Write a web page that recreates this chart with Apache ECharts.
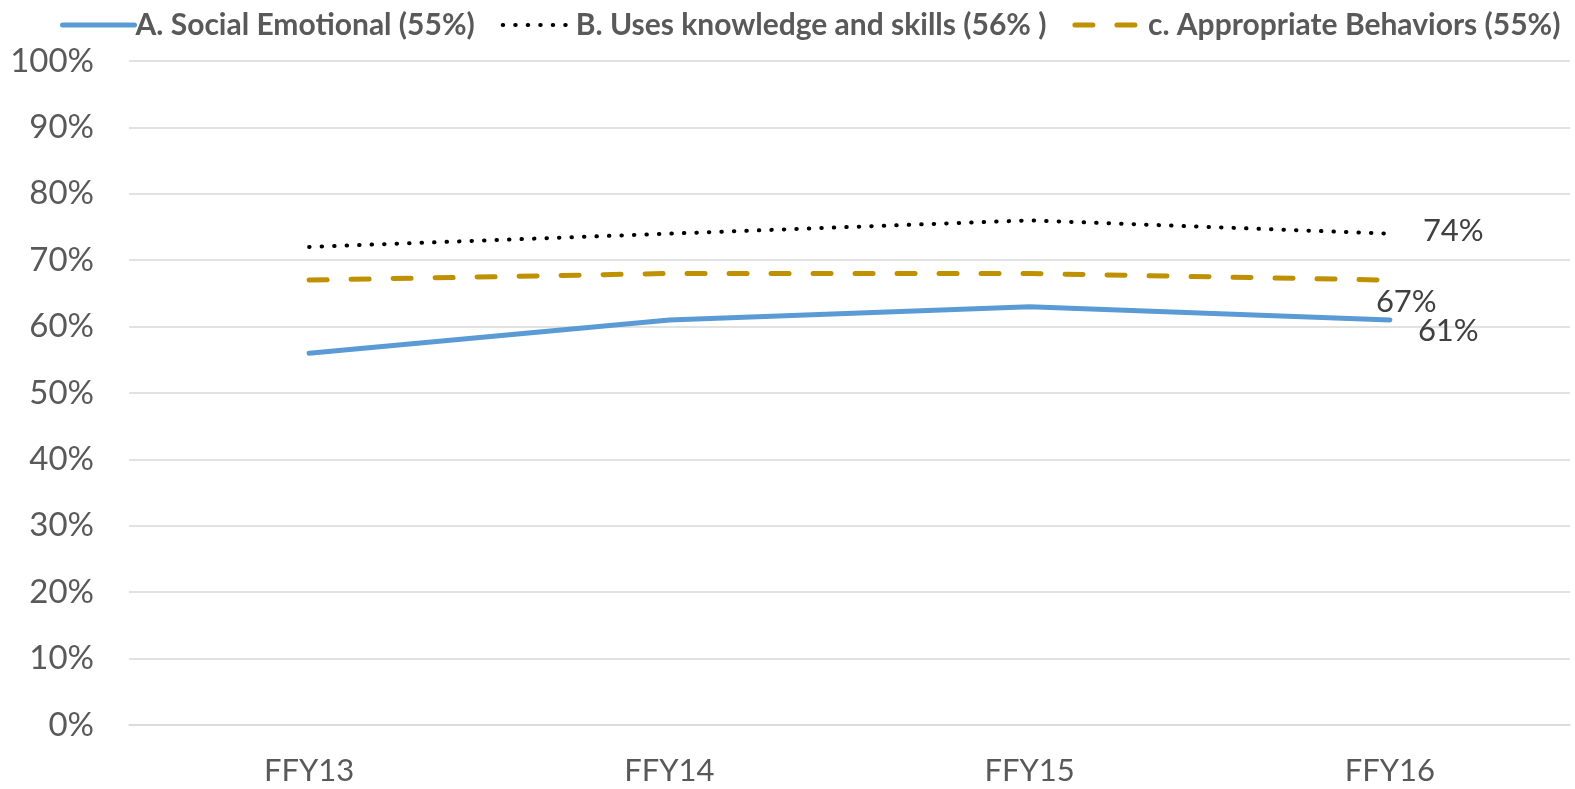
<!DOCTYPE html>
<html>
<head>
<meta charset="utf-8">
<script src="https://cdn.jsdelivr.net/npm/echarts@6/dist/echarts.min.js"></script>
<style>
  html, body { margin: 0; padding: 0; background: #fff; }
  #chart { width: 1575px; height: 789px; }
</style>
</head>
<body>
<div id="chart"></div>
<script>
const years = ['FFY13', 'FFY14', 'FFY15', 'FFY16'];
const socialEmotional = [56, 61, 63, 61];
const usesKnowledge = [72, 74, 76, 74];
const appropriateBehaviors = [67, 68, 68, 67];
const yTicks = [0, 10, 20, 30, 40, 50, 60, 70, 80, 90, 100];

const font = 'Lato, "Open Sans", sans-serif';

// value label at the end of each line
const endLabel = (dx, dy) => ({
    show: true,
    formatter: '{c}%',
    fontFamily: font,
    fontSize: 31,
    color: '#404040',
    distance: 0,
    offset: [dx, dy]
});

var myChart = echarts.init(document.getElementById('chart'));
const option = {
    animation: false,
    textStyle: { fontFamily: font },
    legend: {
        top: 5,
        left: 55,
        itemWidth: 72,
        itemHeight: 14,
        itemGap: 26,
        itemStyle: { opacity: 0 },
        lineStyle: { width: 'inherit', type: 'inherit', cap: 'round' },
        textStyle: { fontFamily: font, fontSize: 30, fontWeight: 'bold', color: '#595959', padding: [0, 0, 0, -4] },
        data: ['A. Social Emotional (55%)', 'B. Uses knowledge and skills (56% )', 'c. Appropriate Behaviors (55%)']
    },
    grid: {
        left: 129,
        right: 5,
        top: 61,
        bottom: 64
    },
    xAxis: {
        type: 'category',
        data: years,
        boundaryGap: true,
        axisLine: { show: true, lineStyle: { color: '#d9d9d9', width: 1.5 } },
        axisTick: { show: false },
        axisLabel: { fontFamily: font, fontSize: 31, color: '#595959', margin: 30 }
    },
    yAxis: {
        type: 'value',
        min: yTicks[0],
        max: yTicks[yTicks.length - 1],
        interval: 10,
        axisLine: { show: false },
        axisTick: { show: false },
        splitLine: { lineStyle: { color: '#d9d9d9', width: 1.5 } },
        axisLabel: { fontFamily: font, fontSize: 33, color: '#595959', margin: 35, formatter: '{value}%' }
    },
    series: [
        {
            name: 'A. Social Emotional (55%)',
            type: 'line',
            symbol: 'none',
            z: 3,
            lineStyle: { color: '#5b9bd5', width: 5, cap: 'round' },
            itemStyle: { color: '#5b9bd5' },
            endLabel: endLabel(28, 11),
            data: socialEmotional
        },
        {
            name: 'B. Uses knowledge and skills (56% )',
            type: 'line',
            symbol: 'none',
            z: 2,
            lineStyle: { color: '#000000', width: 4, type: [0.5, 12], cap: 'round' },
            itemStyle: { color: '#000000' },
            endLabel: endLabel(33, -3),
            data: usesKnowledge
        },
        {
            name: 'c. Appropriate Behaviors (55%)',
            type: 'line',
            symbol: 'none',
            z: 2,
            lineStyle: { color: '#bf9000', width: 5, type: [18, 24], cap: 'round' },
            itemStyle: { color: '#bf9000' },
            endLabel: endLabel(-14, 22),
            data: appropriateBehaviors
        }
    ]
};
myChart.setOption(option);
</script>
</body>
</html>
